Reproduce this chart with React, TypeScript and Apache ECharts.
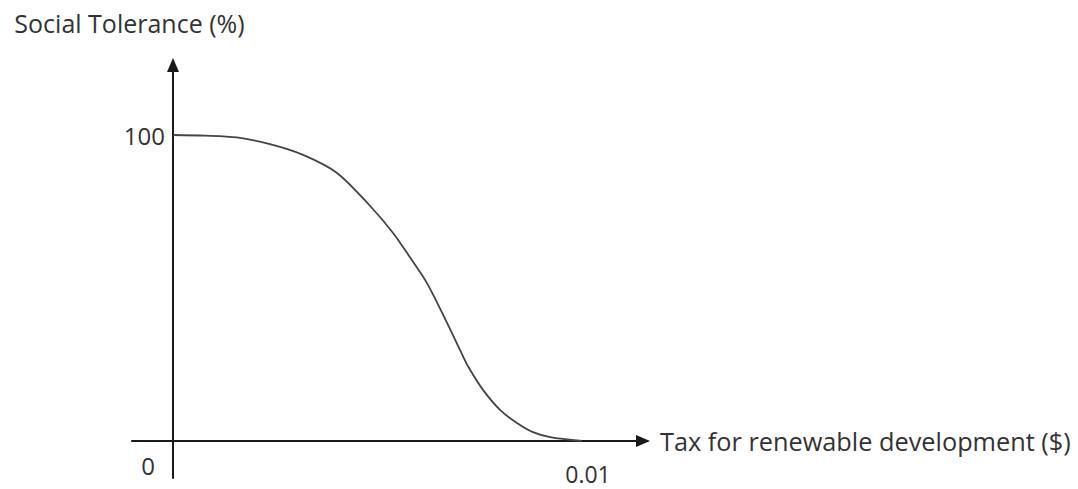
import React, { useEffect, useRef } from "react";
import * as echarts from "echarts";

const taxValues = [0, 0.00078, 0.00156, 0.00237, 0.00318, 0.00401, 0.00482, 0.00538, 0.00579, 0.00621, 0.0067, 0.00702, 0.00721, 0.00758, 0.008, 0.00841, 0.0088, 0.00922, 0.01];
const tolerance = [100, 99.8, 99.2, 97.0, 93.5, 87.6, 76.8, 68.0, 60.1, 51.6, 38.6, 29.7, 24.5, 16.7, 10.1, 5.9, 2.9, 1.3, 0];
const xTicks = [0.01];
const yTicks = [100];
const xName = "Tax for renewable development ($)";
const yName = "Social Tolerance (%)";
const originLabel = "0";

const FONT = "'Open Sans', sans-serif";
const TEXT = "#333";
const AXIS = "#1a1a1a";

export default function App() {
  const ref = useRef<HTMLDivElement>(null);
  useEffect(() => {
    if (!ref.current) return;
    const chart = echarts.init(ref.current, null, { renderer: "svg" });
    chart.setOption({
      animation: false,
      backgroundColor: "#fff",
      grid: {
        left: 132,
        right: 435,
        top: 65,
        bottom: 11,
        containLabel: false,
        outerBoundsMode: "none",
      },
      xAxis: {
        type: "value",
        min: -0.0010024,
        max: 0.011491,
        name: xName,
        nameLocation: "end",
        nameGap: 17,
        nameTextStyle: { fontFamily: FONT, fontSize: 25.3, color: TEXT },
        axisLine: {
          onZero: true,
          symbol: ["none", "triangle"],
          symbolSize: [12, 14],
          lineStyle: { color: AXIS, width: 2 },
        },
        axisTick: { show: false },
        splitLine: { show: false },
        axisLabel: {
          customValues: xTicks,
          formatter: (v: number) => String(v),
          margin: -15,
          fontFamily: FONT,
          fontSize: 23,
          lineHeight: 22,
          padding: [0, 0, 0, 12],
          color: TEXT,
        },
      },
      yAxis: {
        type: "value",
        min: -12.09,
        max: 122.88,
        name: yName,
        nameLocation: "end",
        nameGap: 30,
        nameTextStyle: { fontFamily: FONT, fontSize: 25, color: TEXT, padding: [0, 87, 0, 0] },
        axisLine: {
          onZero: true,
          symbol: ["none", "triangle"],
          symbolSize: [12, 14],
          lineStyle: { color: AXIS, width: 2 },
        },
        axisTick: { show: false },
        splitLine: { show: false },
        axisLabel: {
          customValues: yTicks,
          margin: -33,
          fontFamily: FONT,
          fontSize: 24,
          color: TEXT,
        },
      },
      graphic: [
        {
          type: "text",
          x: 148,
          y: 465,
          style: {
            text: originLabel,
            fontFamily: FONT,
            fontSize: 24,
            fill: TEXT,
            align: "center",
            verticalAlign: "middle",
          },
        },
      ],
      series: [
        {
          type: "line",
          data: taxValues.map((x, i) => [x, tolerance[i]]),
          smooth: 0.3,
          showSymbol: false,
          lineStyle: { color: "#444", width: 1.8 },
        },
      ],
    });
    return () => chart.dispose();
  }, []);
  return (
    <div
      ref={ref}
      style={{ position: "fixed", left: 0, top: 0, width: 1078, height: 489 }}
    />
  );
}
